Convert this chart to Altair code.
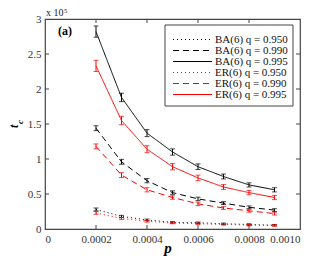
import altair as alt
import pandas as pd

p = [0.0002, 0.0003, 0.0004, 0.0005, 0.0006, 0.0007, 0.0008, 0.0009]
labels = ["BA(6) q = 0.950", "BA(6) q = 0.990", "BA(6) q = 0.995",
          "ER(6) q = 0.950", "ER(6) q = 0.990", "ER(6) q = 0.995"]
ba950 = [0.28, 0.18, 0.13, 0.095, 0.09, 0.075, 0.065, 0.055]
ba990 = [1.44, 0.96, 0.69, 0.52, 0.43, 0.37, 0.31, 0.27]
ba995 = [2.82, 1.88, 1.37, 1.10, 0.89, 0.75, 0.63, 0.56]
er950 = [0.23, 0.15, 0.11, 0.085, 0.075, 0.065, 0.055, 0.05]
er990 = [1.18, 0.77, 0.56, 0.45, 0.36, 0.30, 0.26, 0.22]
er995 = [2.33, 1.55, 1.14, 0.89, 0.73, 0.60, 0.52, 0.45]
e950 = [0.02, 0.015, 0.012, 0.01, 0.01, 0.01, 0.01, 0.01]
e990 = [0.035, 0.035, 0.03, 0.025, 0.025, 0.02, 0.02, 0.02]
e995 = [0.08, 0.06, 0.05, 0.045, 0.04, 0.035, 0.03, 0.03]
xlabels = [0, 0.0002, 0.0004, 0.0006, 0.0008, 0.001]
ylabels = [0, 0.5, 1, 1.5, 2, 2.5, 3]
xticks = [0.0002, 0.0004, 0.0006, 0.0008]
yticks = [0.5, 1.0, 1.5, 2.0, 2.5]

series = [ba950, ba990, ba995, er950, er990, er995]
errs = [e950, e990, e995, e950, e990, e995]
rows = []
for lab, vals, ee in zip(labels, series, errs):
    for xi, v, e in zip(p, vals, ee):
        rows.append({"p": xi, "t": v, "lo": v - e, "hi": v + e, "series": lab})
df = pd.DataFrame(rows)

FONT = "Liberation Serif"
colors = ["#000000", "#000000", "#000000", "#ff0000", "#ff0000", "#ff0000"]
dashes = [[1, 3], [6, 4], [1, 0], [1, 3], [6, 4], [1, 0]]

xs = alt.Scale(domain=[0, 0.001], nice=False)
ys = alt.Scale(domain=[0, 3], nice=False)
cs = alt.Scale(domain=labels, range=colors)
ds = alt.Scale(domain=labels, range=dashes)

xenc = alt.X("p:Q", scale=xs, title=None,
             axis=alt.Axis(values=xlabels,
                           labelExpr="datum.value == 0 ? '0' : format(datum.value, '.4f')",
                           ticks=False, domain=False, grid=False, labelPadding=4,
                           labelFont=FONT, labelFontSize=11, labelColor="#333"))
yenc = alt.Y("t:Q", scale=ys, title=None,
             axis=alt.Axis(values=ylabels, format="~g",
                           ticks=False, domain=False, grid=False, labelPadding=4,
                           labelFont=FONT, labelFontSize=11, labelColor="#333"))

col = alt.Color("series:N", scale=cs, legend=None)
dash = alt.StrokeDash("series:N", scale=ds, legend=None)

base = alt.Chart(df)
lines = base.mark_line(strokeWidth=1).encode(x=xenc, y=yenc, color=col, strokeDash=dash)

ebar = base.mark_rule(strokeWidth=1).encode(
    x=alt.X("p:Q", scale=xs), y=alt.Y("lo:Q", scale=ys, axis=None), y2="hi:Q", color=col)
ecap_lo = base.mark_tick(orient="horizontal", size=5, thickness=1).encode(
    x=alt.X("p:Q", scale=xs), y=alt.Y("lo:Q", scale=ys, axis=None), color=col)
ecap_hi = base.mark_tick(orient="horizontal", size=5, thickness=1).encode(
    x=alt.X("p:Q", scale=xs), y=alt.Y("hi:Q", scale=ys, axis=None), color=col)

xt = alt.Chart(pd.DataFrame({"v": xticks}))
yt = alt.Chart(pd.DataFrame({"v": yticks}))
tcol = "#444"
xt_bot = xt.mark_rule(color=tcol).encode(x=alt.X("v:Q", scale=xs), y=alt.value(210), y2=alt.value(206))
xt_top = xt.mark_rule(color=tcol).encode(x=alt.X("v:Q", scale=xs), y=alt.value(0), y2=alt.value(4))
yt_l = yt.mark_rule(color=tcol).encode(y=alt.Y("v:Q", scale=ys, axis=None), x=alt.value(0), x2=alt.value(4))
yt_r = yt.mark_rule(color=tcol).encode(y=alt.Y("v:Q", scale=ys, axis=None), x=alt.value(255), x2=alt.value(251))

# manual legend
leg = alt.Chart(pd.DataFrame({"series": labels}))
ly = alt.Y("series:N", scale=alt.Scale(domain=labels, range=[15, 81]), axis=None)
leg_box = alt.Chart(pd.DataFrame({"a": [0]})).mark_rect(
    fill="white", stroke="#444", strokeWidth=1).encode(
    x=alt.value(120), x2=alt.value(248), y=alt.value(6), y2=alt.value(87))
leg_lines = leg.mark_rule(strokeWidth=1).encode(
    y=ly, x=alt.value(128), x2=alt.value(167), color=col, strokeDash=dash)
leg_text = leg.mark_text(font=FONT, fontSize=11, align="left", baseline="middle", color="#111").encode(
    y=ly, x=alt.value(170), text="series:N")

ann = alt.Chart(pd.DataFrame({"a": [0]}))
t_x10 = ann.mark_text(text="x 10", font=FONT, fontSize=10, align="left", baseline="alphabetic", color="#222").encode(
    x=alt.value(1), y=alt.value(-3))
t_5 = ann.mark_text(text="5", font=FONT, fontSize=6.5, align="left", baseline="alphabetic", color="#222").encode(
    x=alt.value(19), y=alt.value(-6))
t_a = ann.mark_text(text="(a)", font=FONT, fontSize=12, fontWeight="bold", align="left", baseline="middle", color="#000").encode(
    x=alt.value(13), y=alt.value(12))
t_p = ann.mark_text(text="p", font=FONT, fontSize=15, fontWeight="bold", fontStyle="italic", align="center", baseline="alphabetic", color="#000").encode(
    x=alt.value(123), y=alt.value(253 - 19))
t_t = ann.mark_text(text="t", font=FONT, fontSize=12, fontWeight="bold", fontStyle="italic", angle=270,
                    align="left", baseline="alphabetic", color="#000").encode(
    x=alt.value(-27), y=alt.value(128 - 19))
t_c = ann.mark_text(text="c", font=FONT, fontSize=9, fontWeight="bold", fontStyle="italic", angle=270,
                    align="left", baseline="alphabetic", color="#000").encode(
    x=alt.value(-22), y=alt.value(124 - 19))

chart = alt.layer(
    xt_bot, xt_top, yt_l, yt_r, lines, ebar, ecap_lo, ecap_hi,
    leg_box, leg_lines, leg_text,
    t_x10, t_5, t_a, t_p, t_t, t_c
).resolve_scale(y="independent").properties(
    width=255, height=210,
    autosize=alt.AutoSizeParams(type="none"),
    padding={"left": 37, "top": 11, "right": 16, "bottom": 28},
).configure_view(stroke="#444", strokeWidth=1.2).configure_axis(
    labelFont=FONT
)

chart.save("out.html", embed_options={"renderer": "svg", "actions": False})
